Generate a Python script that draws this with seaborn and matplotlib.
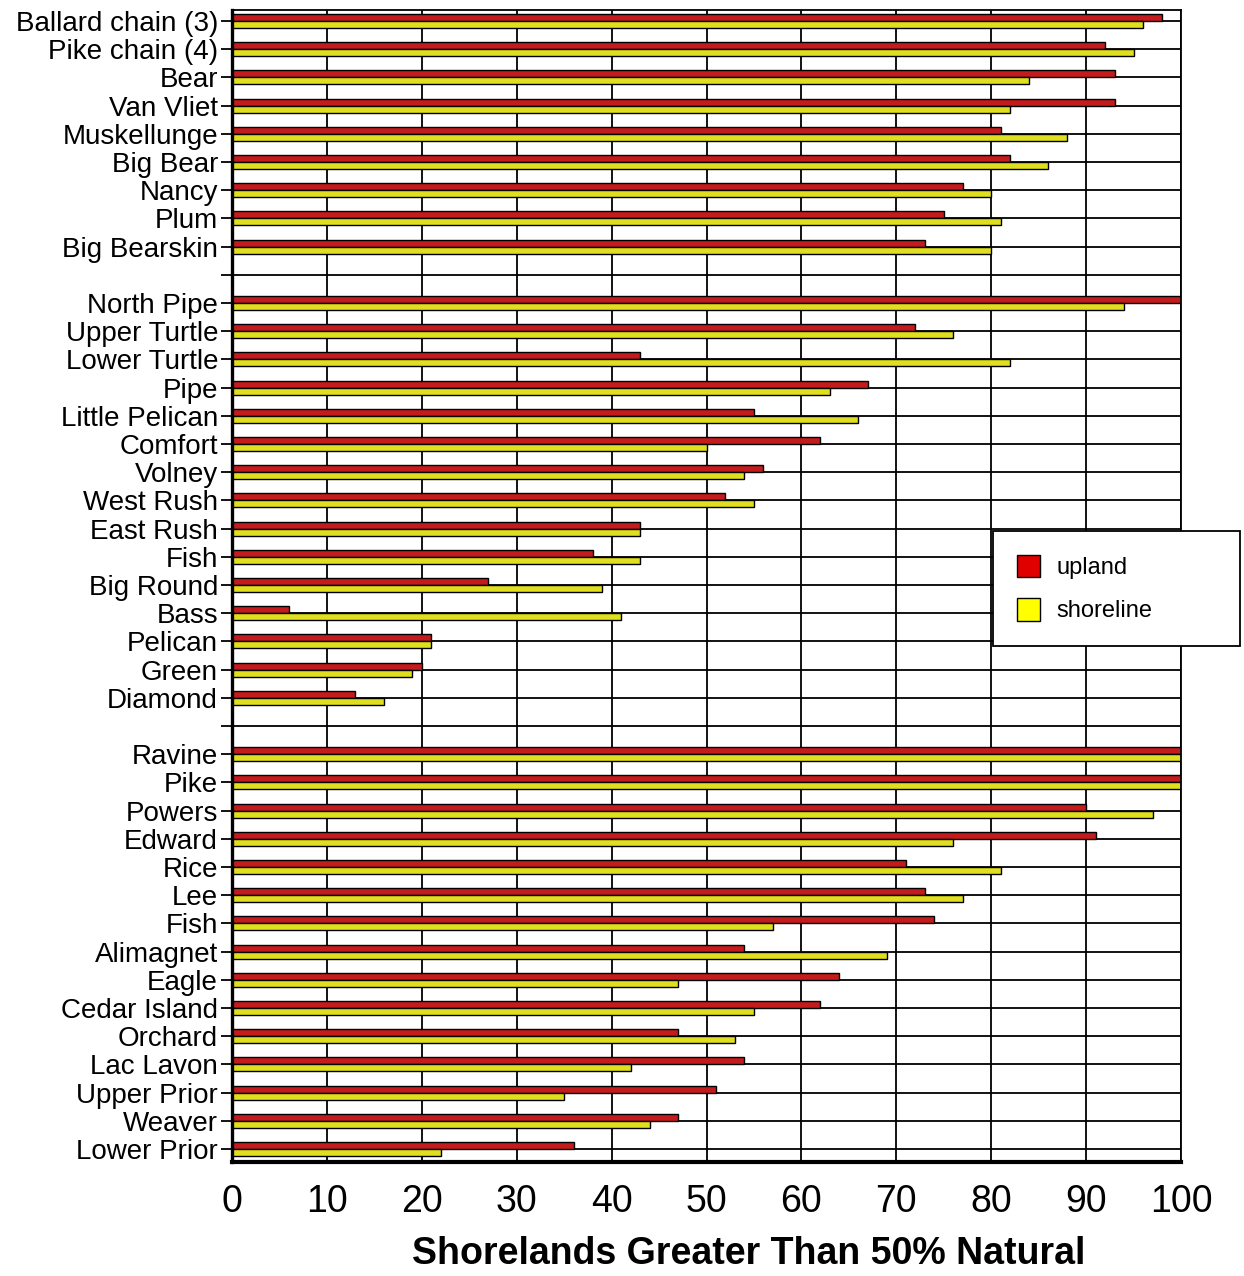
import numpy as np
import pandas as pd
import matplotlib
matplotlib.use('Agg')
import matplotlib.pyplot as plt
import seaborn as sns
from matplotlib.patches import Patch

# lake groups, top to bottom (a blank row separates groups)
group1_lakes = ['Ballard chain (3)', 'Pike chain (4)', 'Bear', 'Van Vliet', 'Muskellunge',
                'Big Bear', 'Nancy', 'Plum', 'Big Bearskin']
group1_upland = [98, 92, 93, 93, 81, 82, 77, 75, 73]
group1_shoreline = [96, 95, 84, 82, 88, 86, 80, 81, 80]

group2_lakes = ['North Pipe', 'Upper Turtle', 'Lower Turtle', 'Pipe', 'Little Pelican',
                'Comfort', 'Volney', 'West Rush', 'East Rush', 'Fish', 'Big Round',
                'Bass', 'Pelican', 'Green', 'Diamond']
group2_upland = [100, 72, 43, 67, 55, 62, 56, 52, 43, 38, 27, 6, 21, 20, 13]
group2_shoreline = [94, 76, 82, 63, 66, 50, 54, 55, 43, 43, 39, 41, 21, 19, 16]

group3_lakes = ['Ravine', 'Pike', 'Powers', 'Edward', 'Rice', 'Lee', 'Fish', 'Alimagnet',
                'Eagle', 'Cedar Island', 'Orchard', 'Lac Lavon', 'Upper Prior',
                'Weaver', 'Lower Prior']
group3_upland = [100, 100, 90, 91, 71, 73, 74, 54, 64, 62, 47, 54, 51, 47, 36]
group3_shoreline = [100, 100, 97, 76, 81, 77, 57, 69, 47, 55, 53, 42, 35, 44, 22]

series_names = ['upland', 'shoreline']
series_colors = ['#e00000', '#ffff00']
x_ticks = list(range(0, 101, 10))
x_title = 'Shorelands Greater Than 50% Natural'

# build rows with blank separators
groups = [(group1_lakes, group1_upland, group1_shoreline),
          (group2_lakes, group2_upland, group2_shoreline),
          (group3_lakes, group3_upland, group3_shoreline)]
row_labels = []
records = []
for g, (lakes, up, sh) in enumerate(groups):
    if g > 0:
        row_labels.append('')
    for name, u, s in zip(lakes, up, sh):
        key = f'r{len(row_labels):02d}'
        row_labels.append(name)
        records.append({'row': key, 'series': 'upland', 'value': u})
        records.append({'row': key, 'series': 'shoreline', 'value': s})
order = [f'r{i:02d}' for i in range(len(row_labels))]
df = pd.DataFrame(records)

sns.set_style('white')
plt.rcParams['font.family'] = ['Liberation Sans', 'DejaVu Sans']
plt.rcParams['text.color'] = 'black'
plt.rcParams['axes.labelcolor'] = 'black'
plt.rcParams['xtick.color'] = 'black'
plt.rcParams['ytick.color'] = 'black'

fig = plt.figure(figsize=(12.44, 12.76), dpi=100)
ax = fig.add_axes([232 / 1244, 1 - 1162 / 1276, (1181 - 232) / 1244, (1162 - 10) / 1276])

sns.barplot(data=df, y='row', x='value', hue='series', order=order,
            hue_order=series_names, palette=series_colors, orient='h',
            width=0.5, edgecolor='black', linewidth=1.0, errorbar=None,
            legend=False, ax=ax)

n = len(row_labels)
ax.set_xlim(0, 100)
ax.set_ylim(40.46, -0.39)
ax.set_yticks(range(n))
ax.set_yticklabels(row_labels, fontsize=20, color='black')
ax.set_xticks(x_ticks)
ax.set_xticklabels([str(t) for t in x_ticks], fontsize=27, color='black')
ax.set_ylabel('')
ax.set_xlabel(x_title, fontsize=27, fontweight='bold', color='black', va='center')
ax.xaxis.set_label_coords(0.5 + 42 / 949, (1162 - 1254) / 1152)

ax.set_axisbelow(True)
ax.grid(True, axis='both', color='black', linewidth=1.3)
ax.tick_params(axis='y', length=8, width=1.3, color='black', pad=2, left=True)
ax.tick_params(axis='x', length=0, pad=16)

for side in ['top', 'right']:
    ax.spines[side].set_visible(True)
    ax.spines[side].set_linewidth(1.3)
    ax.spines[side].set_color('black')
ax.spines['left'].set_linewidth(2.4)
ax.spines['left'].set_color('black')
ax.spines['bottom'].set_linewidth(3.0)
ax.spines['bottom'].set_color('black')

handles = [Patch(facecolor=c, edgecolor='black', linewidth=1.0, label=l)
           for c, l in zip(series_colors, series_names)]
leg_h = 112 / 1276
leg = ax.legend(handles=handles, loc='upper left', mode='expand',
                bbox_to_anchor=(993 / 1244, 1 - 531 / 1276 - leg_h, 247 / 1244, leg_h),
                bbox_transform=fig.transFigure, fontsize=17, frameon=True,
                fancybox=False, framealpha=1, edgecolor='black',
                handlelength=1.0, handleheight=1.1, handletextpad=0.7,
                labelspacing=0.8, borderpad=1.0, borderaxespad=0)
leg.get_frame().set_linewidth(1.3)
leg.set_zorder(10)

fig.savefig('out.png', dpi=100)
